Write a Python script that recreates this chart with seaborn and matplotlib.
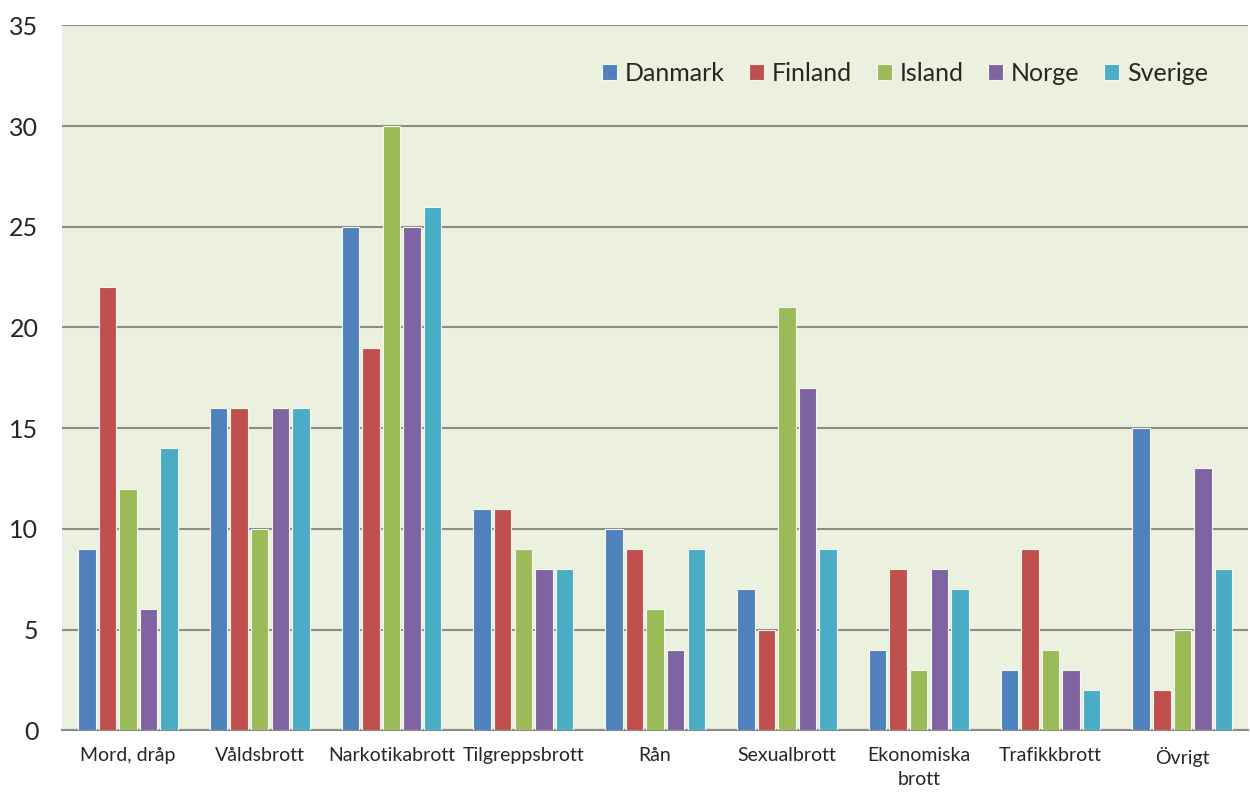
import matplotlib
matplotlib.use("Agg")
import matplotlib.pyplot as plt
import pandas as pd
import seaborn as sns

categories = ["Mord, dråp", "Våldsbrott", "Narkotikabrott", "Tilgreppsbrott", "Rån",
              "Sexualbrott", "Ekonomiska\nbrott", "Trafikkbrott", "Övrigt"]
countries = ["Danmark", "Finland", "Island", "Norge", "Sverige"]
danmark = [9, 16, 25, 11, 10, 7, 4, 3, 15]
finland = [22, 16, 19, 11, 9, 5, 8, 9, 2]
island = [12, 10, 30, 9, 6, 21, 3, 4, 5]
norge = [6, 16, 25, 8, 4, 17, 8, 3, 13]
sverige = [14, 16, 26, 8, 9, 9, 7, 2, 8]
colors = ["#4F81BD", "#C0504D", "#9BBB59", "#8064A2", "#4BACC6"]

series = [danmark, finland, island, norge, sverige]
rows = []
for country, vals in zip(countries, series):
    for cat, v in zip(categories, vals):
        rows.append({"kategori": cat, "land": country, "antal": v})
df = pd.DataFrame(rows)

sns.set_theme(style="white")
plt.rcParams["font.family"] = ["Lato", "DejaVu Sans"]

fig = plt.figure(figsize=(12.5, 7.92), dpi=100)
ax = fig.add_axes([0.0496, 0.078, 0.949, 0.89])
ax.set_facecolor("#EBF1DE")

sns.barplot(data=df, x="kategori", y="antal", hue="land", order=categories,
            hue_order=countries, palette=colors, saturation=1, width=0.78, gap=0.15,
            edgecolor="#F4F7EE", linewidth=0.8, ax=ax, zorder=3)

ax.set_ylim(0, 35)
ax.set_yticks(range(0, 36, 5))
ax.yaxis.grid(True, color="#8C8C8C", linewidth=1.5, zorder=0)
ax.set_axisbelow(True)
ax.tick_params(axis="y", length=0, labelsize=18, pad=17)
ax.tick_params(axis="x", length=0, labelsize=14, pad=12)
for lbl in ax.get_xticklabels():
    lbl.set_linespacing(1.5)
ax.set_xlabel("")
ax.set_ylabel("")
for side in ["left", "right", "top"]:
    ax.spines[side].set_visible(False)
ax.spines["bottom"].set_color("#8C8C8C")
ax.spines["bottom"].set_linewidth(1.5)

ax.legend(loc="upper right", bbox_to_anchor=(0.985, 0.98), ncol=5, frameon=False,
          fontsize=18, handlelength=0.6, handleheight=0.6, handletextpad=0.3,
          columnspacing=1.0)

fig.savefig("out.png", dpi=100, facecolor="white")
